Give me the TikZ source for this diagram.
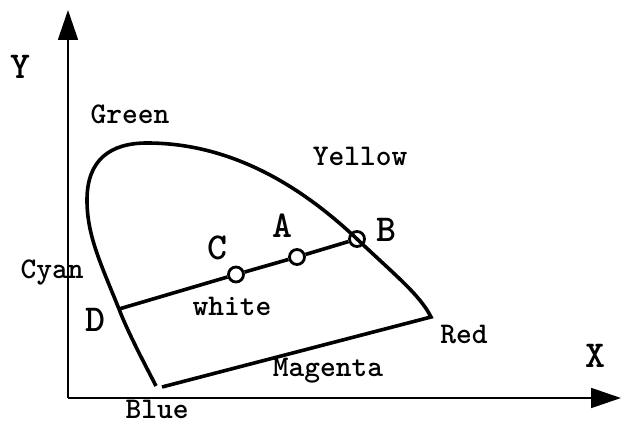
\documentclass[tikz,border=0pt]{standalone}
\usepackage{fontspec}
\setmainfont{Liberation Mono}
\usetikzlibrary{arrows.meta}
\definecolor{ChartInk}{HTML}{000000}

\begin{document}
\begin{tikzpicture}[x=1pt,y=-1pt,
    word/.style={text=ChartInk,font=\fontsize{30}{34}\selectfont\ttfamily\bfseries\addfontfeatures{FakeBold=4},inner sep=0pt},
    letter/.style={text=ChartInk,font=\fontsize{38}{42}\selectfont\ttfamily\bfseries\addfontfeatures{FakeBold=4},inner sep=0pt},
    pt/.style={circle,draw=ChartInk,line width=2.8pt,minimum size=15pt,inner sep=0pt},
    axis/.style={ChartInk,line width=1.8pt,-{Triangle[length=30pt,width=20pt]}},
    locus/.style={ChartInk,line width=3.6pt,line join=miter}]
      \useasboundingbox (0,0) rectangle (622,425);
      % axes
      \coordinate (O) at (68,398);
      \coordinate (ytip) at (68,10);
      \coordinate (xtip) at (621,398);
      \draw[axis] (O) -- (ytip);
      \draw[axis] (O) -- (xtip);
      % spectral locus and purple line
      \coordinate (blue) at (156,386);
      \coordinate (purple) at (162,387);
      \coordinate (D) at (119,309);
      \coordinate (red) at (431,317);
      \node[pt] (C) at (236,274.5) {};
      \node[pt] (A) at (297,257) {};
      \node[pt] (B) at (357,239) {};
      \draw[locus] (blue) .. controls (140,355) and (127,330) .. (D)
            .. controls (100,262) and (87,235) .. (87,200)
            .. controls (87,160) and (110,143) .. (147,143)
            .. controls (230,143) and (300,185) .. (B.center)
            .. controls (395,275) and (420,295) .. (red) -- (purple);
      \draw[locus] (D) -- (C) -- (A) -- (B);
      % labels
      \node[letter] (ylab) at (20,67) {Y};
      \node[letter] (xlab) at (595,356) {X};
      \node[word] (green) at (130,114) {Green};
      \node[word] (yellow) at (360,156) {Yellow};
      \node[word] (cyan) at (52,273) {Cyan};
      \node[word] (redlab) at (464,334) {Red};
      \node[word] (magenta) at (328,371) {Magenta};
      \node[word] (bluelab) at (157,409) {Blue};
      \node[word] (white) at (232,306) {white};
      \node[letter] (alab) at (282,226) {A};
      \node[letter] (blab) at (386,230) {B};
      \node[letter] (clab) at (217,248) {C};
      \node[letter] (dlab) at (95,320) {D};
    \end{tikzpicture}
\end{document}
